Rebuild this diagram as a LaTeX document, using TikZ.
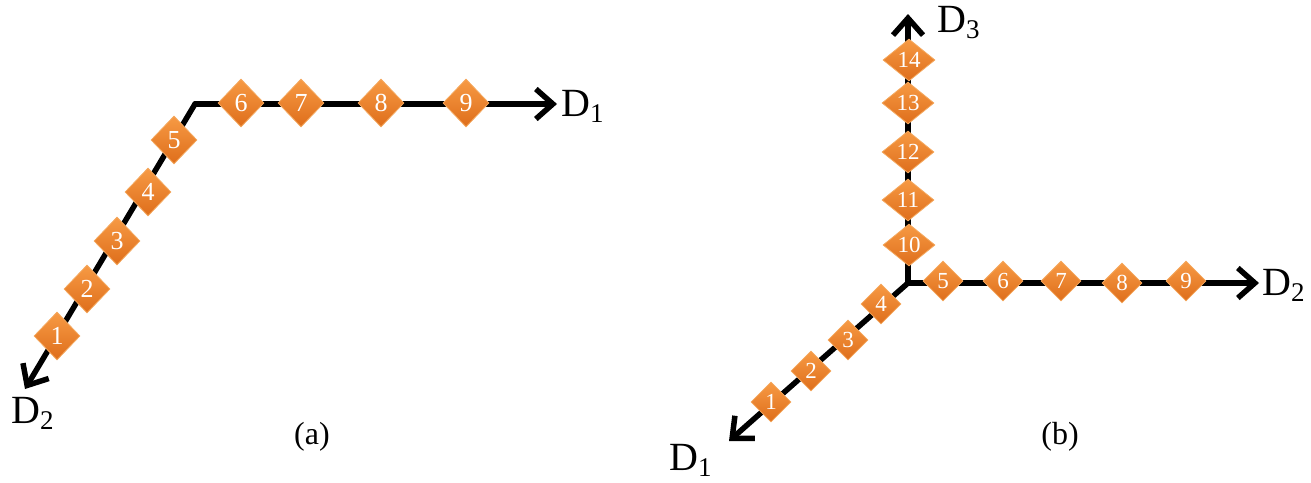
\documentclass[tikz,border=0pt]{standalone}
\usepackage{fontspec}
\setmainfont{Liberation Serif}
\usetikzlibrary{arrows.meta,shapes.geometric}
\definecolor{orTop}{HTML}{F79A44}
\definecolor{orBot}{HTML}{DE6E1B}
\definecolor{orEdge}{HTML}{F4A85E}
\tikzset{
  axis/.style={line width=5.5pt,line cap=round,line join=round,-{Straight Barb[length=17pt,width=30pt,line width=5.5pt]}},
  dia/.style={diamond,inner sep=0pt,top color=orTop,bottom color=orBot,draw=orEdge,line width=0.8pt,text=white},
  diaA/.style={dia,minimum width=46pt,minimum height=48pt,font=\fontsize{26}{26}\selectfont},
  diaB/.style={dia,minimum width=40pt,minimum height=40pt,font=\fontsize{23}{23}\selectfont},
  diaC/.style={dia,minimum width=52pt,minimum height=42pt,font=\fontsize{23}{23}\selectfont},
  dlab/.style={anchor=base west,inner sep=0pt,font=\fontsize{40}{40}\selectfont},
  panellabel/.style={font=\fontsize{32}{32}\selectfont}
}
\newcommand{\Dsub}[1]{D\raisebox{-0.17em}{\fontsize{27}{27}\selectfont #1}}
\begin{document}
\begin{tikzpicture}[x=1pt,y=-1pt]
\useasboundingbox (0,0) rectangle (1311,482);
% ---------- (a) ----------
\coordinate (aC) at (195,104);
\coordinate (aE1) at (557,104);
\coordinate (aE2) at (25,389);
\draw[axis] (aC) -- (aE1);
\draw[axis] (aC) -- (aE2);
\node[diaA] (a1) at (57,336) {1};
\node[diaA] (a2) at (87,289) {2};
\node[diaA] (a3) at (117,241) {3};
\node[diaA] (a4) at (148,192) {4};
\node[diaA] (a5) at (174,140) {5};
\node[diaA] (a6) at (241,103) {6};
\node[diaA] (a7) at (301,103) {7};
\node[diaA] (a8) at (381,103) {8};
\node[diaA] (a9) at (466,103) {9};
\node[dlab] (aD1) at (561,116) {\Dsub{1}};
\node[dlab] (aD2) at (11,423) {\Dsub{2}};
\node[panellabel] (acap) at (312,437) {(a)};
% ---------- (b) ----------
\coordinate (bC) at (908,283);
\coordinate (bE1) at (729,441);
\coordinate (bE2) at (1259,283);
\coordinate (bE3) at (908,14);
\draw[axis] (bC) -- (bE1);
\draw[axis] (bC) -- (bE2);
\draw[axis] (bC) -- (bE3);
\node[diaB] (b1) at (771,402) {1};
\node[diaB] (b2) at (811,371) {2};
\node[diaB] (b3) at (848,340) {3};
\node[diaB] (b4) at (881,304) {4};
\node[diaB] (b5) at (943,281) {5};
\node[diaB] (b6) at (1003,281) {6};
\node[diaB] (b7) at (1061,281) {7};
\node[diaB] (b8) at (1122,283) {8};
\node[diaB] (b9) at (1186,281) {9};
\node[diaC] (b10) at (909,245) {10};
\node[diaC] (b11) at (908,200) {11};
\node[diaC] (b12) at (908,152) {12};
\node[diaC] (b13) at (908,103) {13};
\node[diaC] (b14) at (909,60) {14};
\node[dlab] (bD1) at (669,470) {\Dsub{1}};
\node[dlab] (bD2) at (1262,295) {\Dsub{2}};
\node[dlab] (bD3) at (937,32) {\Dsub{3}};
\node[panellabel] (bcap) at (1060,437) {(b)};
\end{tikzpicture}
\end{document}
